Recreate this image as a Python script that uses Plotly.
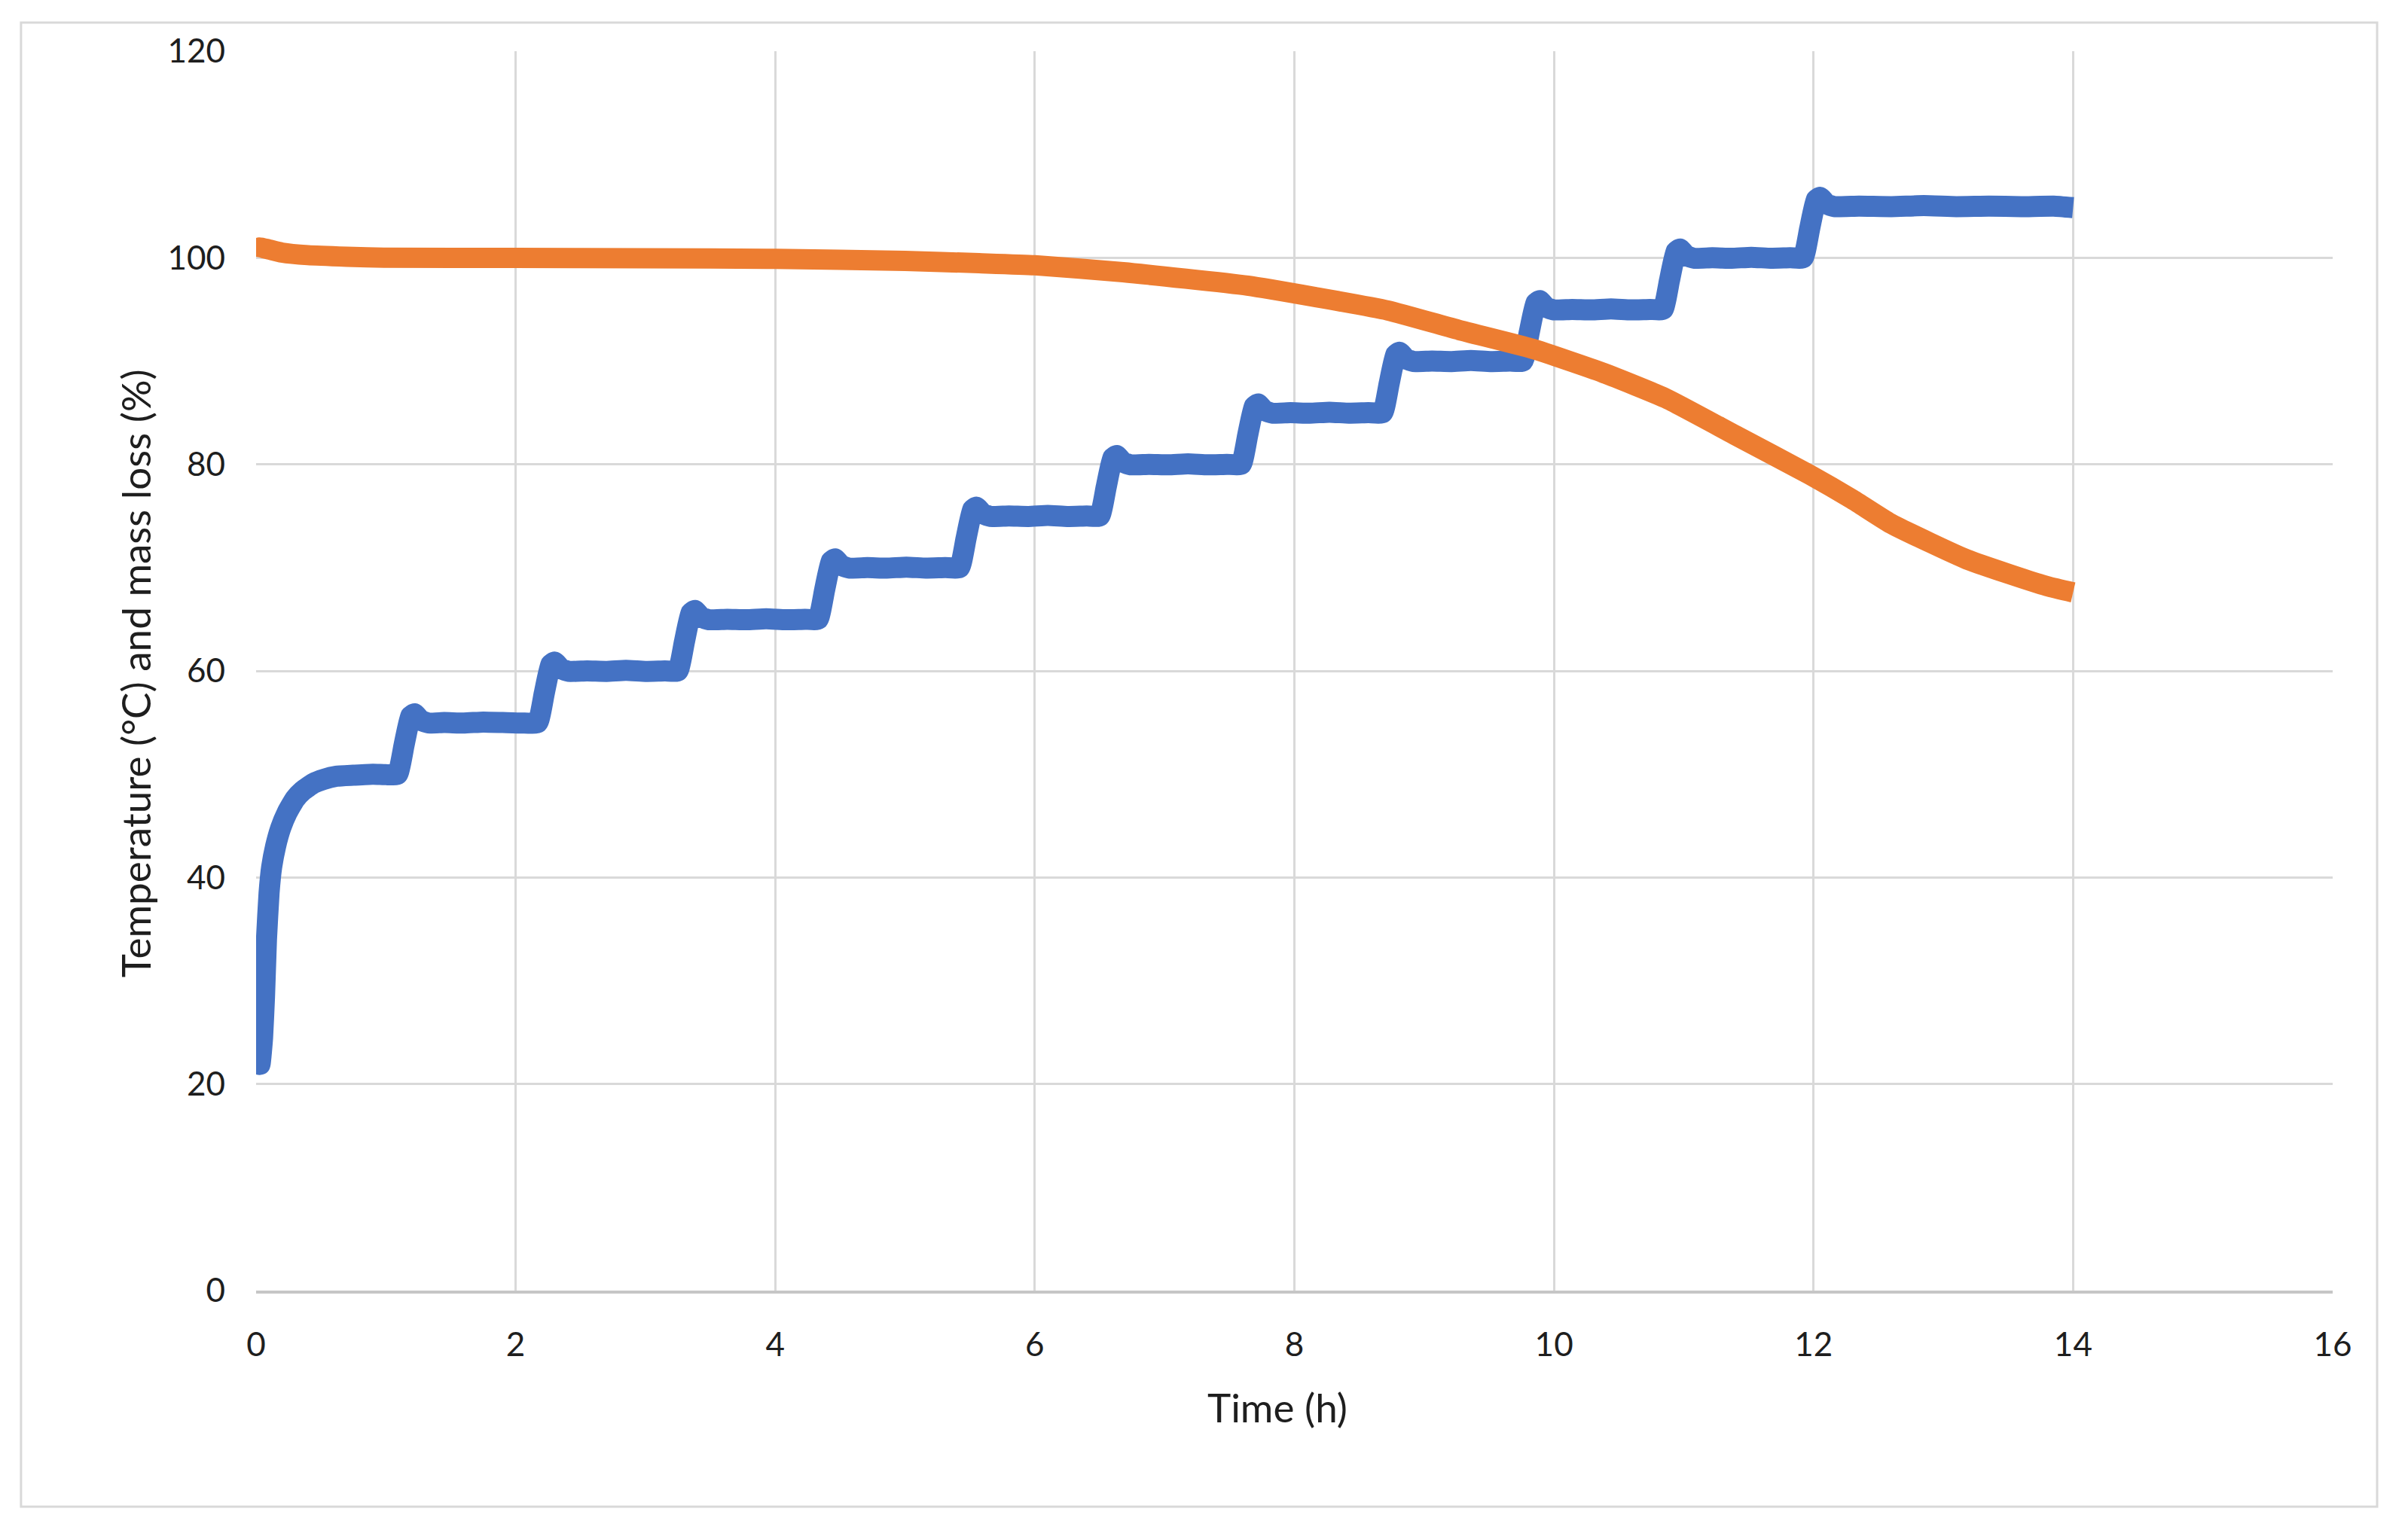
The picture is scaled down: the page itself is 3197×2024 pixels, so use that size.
import plotly.graph_objects as go

# ---- data ----
temp_t = [0.00, 0.01, 0.03, 0.05, 0.065, 0.08, 0.10, 0.12, 0.15, 0.19, 0.24, 0.30, 0.36, 0.44, 0.52, 0.62, 0.75, 0.90, 1.00, 1.09,
          1.14, 1.19, 1.22, 1.27, 1.33, 1.45, 1.60, 1.75, 1.90, 2.05, 2.17,
          2.22, 2.27, 2.30, 2.35, 2.41, 2.55, 2.70, 2.85, 3.00, 3.15, 3.25,
          3.30, 3.35, 3.38, 3.43, 3.49, 3.63, 3.78, 3.93, 4.08, 4.23, 4.33,
          4.38, 4.43, 4.46, 4.51, 4.57, 4.71, 4.86, 5.01, 5.16, 5.31, 5.42,
          5.47, 5.52, 5.55, 5.60, 5.66, 5.80, 5.95, 6.10, 6.25, 6.40, 6.50,
          6.55, 6.60, 6.63, 6.68, 6.74, 6.88, 7.03, 7.18, 7.33, 7.48, 7.59,
          7.64, 7.69, 7.72, 7.77, 7.83, 7.97, 8.12, 8.27, 8.42, 8.57, 8.68,
          8.73, 8.78, 8.81, 8.86, 8.92, 9.06, 9.21, 9.36, 9.51, 9.66, 9.76,
          9.81, 9.86, 9.89, 9.94, 10.00, 10.14, 10.29, 10.44, 10.59, 10.74, 10.84,
          10.89, 10.94, 10.97, 11.02, 11.08, 11.22, 11.37, 11.52, 11.67, 11.82, 11.92,
          11.97, 12.02, 12.05, 12.10, 12.16, 12.35, 12.60, 12.85, 13.10, 13.35, 13.60, 13.85, 14.00]
temp_v = [23.6, 23.0, 21.9, 24.5, 28.5, 34.0, 38.5, 41.0, 43.0, 44.8, 46.3, 47.6, 48.4, 49.1, 49.5, 49.8, 49.9, 50.0, 49.95, 50.0,
          52.8, 55.6, 55.85, 55.2, 54.95, 55.0, 54.95, 55.05, 55.0, 54.95, 55.0,
          57.8, 60.6, 60.85, 60.2, 59.95, 60.0, 59.95, 60.05, 59.95, 60.0, 60.0,
          62.8, 65.6, 65.85, 65.2, 64.95, 65.0, 64.95, 65.05, 64.95, 65.0, 65.0,
          67.8, 70.6, 70.85, 70.2, 69.95, 70.0, 69.95, 70.05, 69.95, 70.0, 70.0,
          72.8, 75.6, 75.85, 75.2, 74.95, 75.0, 74.95, 75.05, 74.95, 75.0, 75.0,
          77.8, 80.6, 80.85, 80.2, 79.95, 80.0, 79.95, 80.05, 79.95, 80.0, 80.0,
          82.8, 85.6, 85.85, 85.2, 84.95, 85.0, 84.95, 85.05, 84.95, 85.0, 85.0,
          87.8, 90.6, 90.85, 90.2, 89.95, 90.0, 89.95, 90.05, 89.95, 90.0, 90.0,
          92.8, 95.6, 95.85, 95.2, 94.95, 95.0, 94.95, 95.05, 94.95, 95.0, 95.0,
          97.8, 100.6, 100.85, 100.2, 99.95, 100.0, 99.95, 100.05, 99.95, 100.0, 100.0,
          102.8, 105.6, 105.85, 105.2, 104.95, 105.0, 104.95, 105.05, 104.95, 105.0, 104.95, 105.0, 104.85]

mass_t = [0.00, 0.015, 0.03, 0.10, 0.20, 0.40, 0.70, 1.00, 2.00, 3.00, 4.00, 5.00, 5.57, 6.00, 6.68, 7.64, 8.16, 8.72,
          9.27, 9.83, 10.38, 10.86, 11.40, 11.97, 12.30, 12.59, 12.90, 13.18, 13.50, 13.80, 14.00]
mass_v = [100.1, 100.9, 101.0, 100.8, 100.5, 100.25, 100.1, 100.0, 99.98, 99.95, 99.9, 99.7, 99.47, 99.27, 98.6, 97.3, 96.2, 94.9,
          93.0, 91.2, 88.85, 86.4, 82.8, 79.0, 76.6, 74.3, 72.4, 70.8, 69.4, 68.2, 67.6]

x_ticks = [0, 2, 4, 6, 8, 10, 12, 14, 16]
y_ticks = [0, 20, 40, 60, 80, 100, 120]
x_title = "Time (h)"
y_title = "Temperature (°C) and mass loss (%)"

FONT = "Lato"
TXT = "#1e1e1e"

fig = go.Figure()
fig.add_trace(go.Scatter(x=temp_t, y=temp_v, mode="lines", name="Temperature",
                         line=dict(color="#4472C4", width=28, shape="spline", smoothing=0.4),
                         showlegend=False, hoverinfo="skip"))
fig.add_trace(go.Scatter(x=mass_t, y=mass_v, mode="lines", name="Mass",
                         line=dict(color="#ED7D31", width=27, shape="spline", smoothing=0.5),
                         showlegend=False, hoverinfo="skip"))

fig.update_layout(
    width=3197, height=2024,
    margin=dict(l=340, r=100, t=68, b=310),
    paper_bgcolor="white", plot_bgcolor="white",
    font=dict(family=FONT, color=TXT),
    xaxis=dict(range=[0, 16], tickvals=x_ticks, ticktext=[str(v) for v in x_ticks],
               showgrid=True, gridcolor="#D9D9D9", gridwidth=3, zeroline=False,
               showline=True, linecolor="#C6C6C6", linewidth=4,
               ticks="", tickfont=dict(size=44, family=FONT, color=TXT), ticklabelstandoff=30),
    yaxis=dict(range=[0, 120], tickvals=y_ticks, ticktext=[str(v) for v in y_ticks],
               showgrid=True, gridcolor="#D9D9D9", gridwidth=3, zeroline=False,
               showline=False, ticks="", tickfont=dict(size=44, family=FONT, color=TXT), ticklabelstandoff=40),
    annotations=[
        dict(text=x_title, xref="paper", yref="paper", x=0.4918, y=-0.0936, xanchor="center", yanchor="middle",
             showarrow=False, font=dict(size=53, family=FONT, color=TXT)),
        dict(text=y_title, xref="paper", yref="paper", x=-0.0584, y=0.498, xanchor="center", yanchor="middle",
             textangle=-90, showarrow=False, font=dict(size=53, family=FONT, color=TXT)),
    ],
    shapes=[dict(type="rect", xref="paper", yref="paper", x0=-0.1132, x1=1.0214, y0=-0.1744, y1=1.0231,
                 line=dict(color="#D9D9D9", width=3), fillcolor="rgba(0,0,0,0)", layer="below")],
)

fig.write_html("out.html", config={"displayModeBar": False},
               post_script="document.body.style.margin='0';")
